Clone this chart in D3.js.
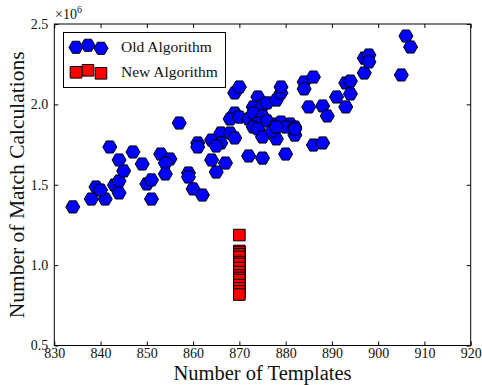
<!DOCTYPE html>
<html>
<head>
<meta charset="utf-8">
<script src="https://cdn.jsdelivr.net/npm/d3@7"></script>
<style>
  body { margin: 0; background: #fff; }
  text { font-family: "Liberation Serif", "DejaVu Serif", serif; fill: #111; }
</style>
</head>
<body>
<figure id="scatter" style="margin:0"></figure>
<script>
// old algorithm: number of templates vs number of match calculations
const oldTemplates = [
  834, 838, 841, 839, 840, 843, 844, 844, 845, 844, 842, 847, 849, 850, 851, 851,
  853, 855, 854, 854, 857, 859, 859, 860, 862, 861, 861, 864, 864, 865, 867, 866,
  866, 865, 868, 869, 872, 875, 880, 869, 870, 874, 873, 875, 876, 878, 879, 879,
  869, 868, 870, 872, 873, 875, 874, 873, 874, 876, 878, 879, 881, 880, 882, 882,
  875, 878, 877, 884, 886, 884, 885, 888, 889, 891, 893, 894, 894, 893, 886, 888,
  897, 897, 898, 898, 905, 906, 907, 882, 878
];
const oldMatches = [
  1.362, 1.411, 1.411, 1.486, 1.467, 1.498, 1.523, 1.449, 1.586, 1.654, 1.735, 1.704, 1.629, 1.505, 1.530, 1.411,
  1.691, 1.660, 1.635, 1.567, 1.884, 1.573, 1.548, 1.474, 1.436, 1.760, 1.735, 1.778, 1.654, 1.579, 1.635, 1.822,
  1.760, 1.741, 1.822, 1.791, 1.679, 1.666, 1.691, 2.071, 2.108, 2.046, 1.984, 1.990, 2.009, 2.027, 2.071, 2.108,
  1.946, 1.909, 1.921, 1.909, 1.946, 1.928, 1.884, 1.859, 1.847, 1.897, 1.878, 1.890, 1.878, 1.859, 1.859, 1.809,
  1.797, 1.785, 1.834, 2.139, 2.170, 2.096, 1.984, 1.990, 1.928, 2.046, 2.133, 2.145, 2.065, 1.984, 1.747, 1.760,
  2.195, 2.288, 2.307, 2.264, 2.183, 2.425, 2.357, 1.847, 1.859
].map(v => v * 1e6);

// new algorithm: all runs at 870 templates
const newTemplates = [870, 870, 870, 870, 870, 870, 870, 870, 870, 870, 870, 870, 870, 870, 870, 870];
const newMatches = [
  1.187, 1.088, 1.079, 1.066, 1.051, 1.019, 1.007, 0.982, 0.957, 0.935, 0.920, 0.907, 0.876, 0.855, 0.836, 0.817
].map(v => v * 1e6);

const xTicks = [830, 840, 850, 860, 870, 880, 890, 900, 910, 920];
const yTicks = [0.5e6, 1.0e6, 1.5e6, 2.0e6, 2.5e6];
const seriesNames = ["Old Algorithm", "New Algorithm"];

const width = 482, height = 385;
const plotLeft = 54.3, plotRight = 470.7, plotTop = 24, plotBottom = 345.5;

const svg = d3.select("figure#scatter")
  .append("svg")
  .attr("width", width)
  .attr("height", height);

const x = d3.scaleLinear().domain([830, 920]).range([plotLeft, plotRight]);
const y = d3.scaleLinear().domain([0.5e6, 2.5e6]).range([plotBottom, plotTop]);

// flat-topped hexagon and square markers
const hexR = 7;
const hexPath = d3.range(6).map(i => {
  const a = i * Math.PI / 3;
  return [hexR * Math.cos(a), hexR * Math.sin(a)];
});
const hexagon = "M" + hexPath.map(p => p.join(",")).join("L") + "Z";
const sq = 5.8;
const square = `M${-sq},${-sq}H${sq}V${sq}H${-sq}Z`;

const oldData = oldTemplates.map((t, i) => ({ t, m: oldMatches[i] }));
const newData = newTemplates.map((t, i) => ({ t, m: newMatches[i] }));

svg.append("g")
  .selectAll("path")
  .data(oldData)
  .enter()
  .append("path")
  .attr("d", hexagon)
  .attr("transform", d => `translate(${x(d.t)},${y(d.m)})`)
  .attr("fill", "#0000ff")
  .attr("stroke", "#000")
  .attr("stroke-width", 1);

svg.append("g")
  .selectAll("path")
  .data(newData)
  .enter()
  .append("path")
  .attr("d", square)
  .attr("transform", d => `translate(${x(d.t)},${y(d.m)})`)
  .attr("fill", "#ff0000")
  .attr("stroke", "#000")
  .attr("stroke-width", 1);

// axes, ticks pointing inwards on all four sides
const fmtY = d => (d / 1e6).toFixed(1);

svg.append("g")
  .attr("transform", `translate(0,${plotBottom})`)
  .call(d3.axisBottom(x).tickValues(xTicks).tickSizeInner(-4).tickSizeOuter(0).tickPadding(3))
  .call(g => g.select(".domain").remove())
  .call(g => g.selectAll("text").style("font-size", "14px").attr("fill", "#222"));

svg.append("g")
  .attr("transform", `translate(0,${plotTop})`)
  .call(d3.axisTop(x).tickValues(xTicks).tickSizeInner(-4).tickSizeOuter(0).tickFormat(""))
  .call(g => g.select(".domain").remove());

svg.append("g")
  .attr("transform", `translate(${plotLeft},0)`)
  .call(d3.axisLeft(y).tickValues(yTicks).tickFormat(fmtY).tickSizeInner(-4).tickSizeOuter(0).tickPadding(6))
  .call(g => g.select(".domain").remove())
  .call(g => g.selectAll("text").style("font-size", "14px").attr("fill", "#222"));

svg.append("g")
  .attr("transform", `translate(${plotRight},0)`)
  .call(d3.axisRight(y).tickValues(yTicks).tickSizeInner(-4).tickSizeOuter(0).tickFormat(""))
  .call(g => g.select(".domain").remove());

svg.selectAll(".tick line").attr("stroke", "#000");

svg.append("rect")
  .attr("x", plotLeft)
  .attr("y", plotTop)
  .attr("width", plotRight - plotLeft)
  .attr("height", plotBottom - plotTop)
  .attr("fill", "none")
  .attr("stroke", "#000")
  .attr("stroke-width", 1);

// offset text
const off = svg.append("text")
  .attr("x", 55)
  .attr("y", 19)
  .style("font-size", "14px");
off.append("tspan").text("×10");
off.append("tspan").attr("dy", -6).style("font-size", "10px").text("6");

// axis labels
svg.append("text")
  .attr("x", (plotLeft + plotRight) / 2)
  .attr("y", 380)
  .attr("text-anchor", "middle")
  .style("font-size", "20.5px")
  .text("Number of Templates");

svg.append("text")
  .attr("transform", `translate(24,${(plotTop + plotBottom) / 2}) rotate(-90)`)
  .attr("text-anchor", "middle")
  .style("font-size", "21.5px")
  .text("Number of Match Calculations");

// legend
const legend = svg.append("g");
legend.append("rect")
  .attr("x", 63.5)
  .attr("y", 32.5)
  .attr("width", 162)
  .attr("height", 55)
  .attr("fill", "#fff")
  .attr("stroke", "#000")
  .attr("stroke-width", 1);

const legendRows = [
  { name: seriesNames[0], shape: hexagon, fill: "#0000ff", cy: 47 },
  { name: seriesNames[1], shape: square, fill: "#ff0000", cy: 72 }
];
const markerOffsets = [[76, 0.3], [88, -1.7], [101, 1.3]];

legendRows.forEach(row => {
  legend.append("g")
    .selectAll("path")
    .data(markerOffsets)
    .enter()
    .append("path")
    .attr("d", row.shape)
    .attr("transform", d => `translate(${d[0]},${row.cy + d[1]})`)
    .attr("fill", row.fill)
    .attr("stroke", "#000")
    .attr("stroke-width", 1);
  legend.append("text")
    .attr("x", 121)
    .attr("y", row.cy + 5)
    .style("font-size", "15.5px")
    .text(row.name);
});
</script>
</body>
</html>
